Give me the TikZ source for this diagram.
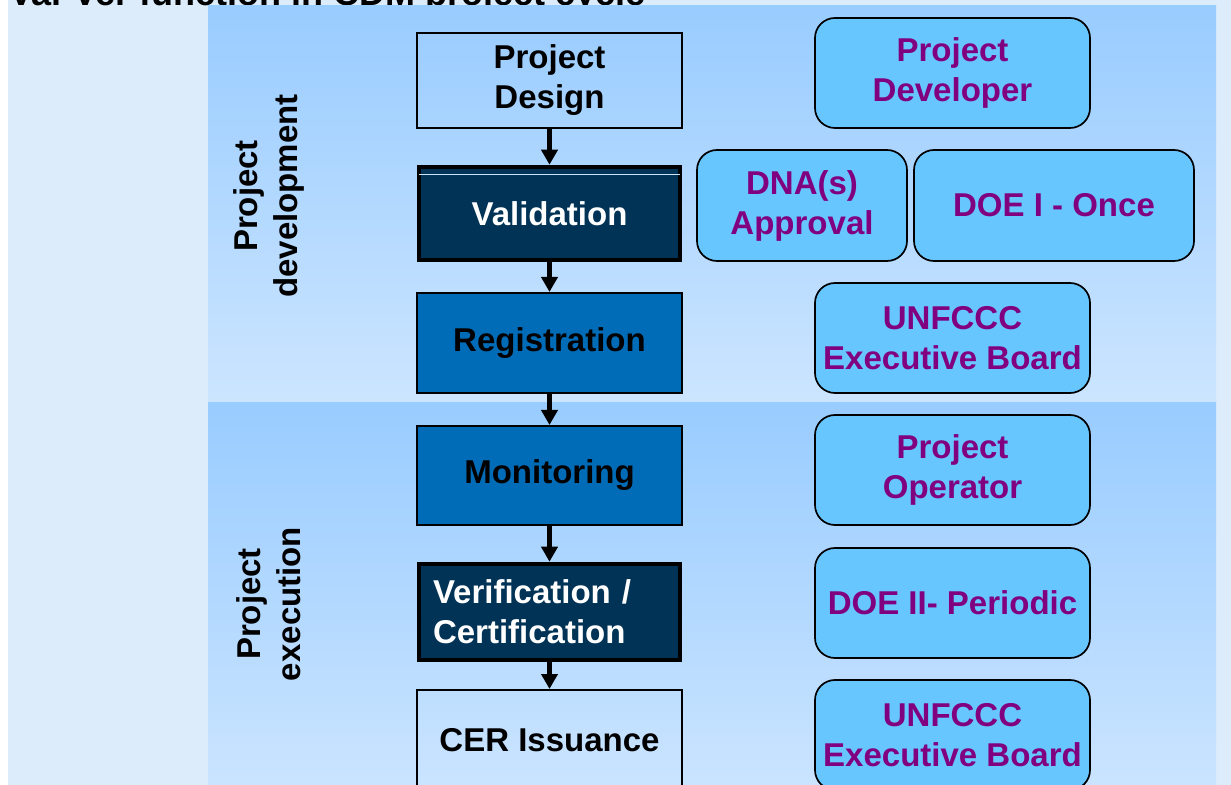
\documentclass[tikz,border=0pt]{standalone}
\usepackage{fontspec}
\setmainfont{Liberation Sans}
\usetikzlibrary{arrows.meta}
\definecolor{pagebg}{RGB}{220,236,250}
\definecolor{paneltop}{RGB}{153,204,255}
\definecolor{panelbot}{RGB}{204,229,255}
\definecolor{navy}{RGB}{0,51,85}
\definecolor{midblue}{RGB}{0,108,183}
\definecolor{skyblue}{RGB}{104,198,255}
\definecolor{rolepurple}{RGB}{128,0,128}
\begin{document}
\begin{tikzpicture}[x=0.5pt, y=-0.5pt,
	txt/.style={font=\fontsize{16.5}{20}\selectfont\bfseries, align=center},
	stage/.style={txt, draw=black, line width=1pt, minimum width=132.5pt},
	keystage/.style={txt, draw=black, line width=2.25pt, fill=navy, text=white,
		minimum width=130.5pt, minimum height=46.5pt},
	role/.style={txt, draw=black, line width=0.85pt, fill=skyblue,
		text=rolepurple, rounded corners=10pt, minimum width=137.5pt,
		minimum height=55pt},
	flow/.style={line width=2.5pt, -{Triangle[width=8pt, length=7.5pt]}}]
	\useasboundingbox (0, 0) rectangle (1231, 785);
	% Hintergrund
	\fill[pagebg] (8, 0) rectangle (1231, 785);
	\node[anchor=base west, inner sep=0pt,
		font=\fontsize{18}{20}\selectfont\bfseries] (title) at (9, 6)
		{Val-Ver function in CDM project cycle};
	\shade[top color=paneltop, bottom color=panelbot] (208, 6) rectangle
	(1216, 403);
	\shade[top color=paneltop, bottom color=panelbot] (208, 403) rectangle
	(1216, 800);
	% Phasen
	\node[txt, rotate=90] (devphase) at (269, 196) {Project\\development};
	\node[txt, rotate=90] (exephase) at (269, 604) {Project\\execution};
	% Projektzyklus
	\node[stage, minimum height=47.5pt] (design) at (549.5, 80.5)
	{Project\\Design};
	\node[keystage] (valid) at (549.5, 213.5) {Validation};
	\draw[panelbot, line width=0.5pt] ([xshift=1.2pt, yshift=-5pt]valid.north
	west) -- ([xshift=-1.2pt, yshift=-5pt]valid.north east);
	\node[stage, fill=midblue, minimum height=50pt] (reg) at (549.5, 343)
	{Registration};
	\node[stage, fill=midblue, minimum height=49.5pt] (mon) at (549.5, 475.5)
	{Monitoring};
	\node[keystage, minimum height=48pt, text width=116.5pt, align=left,
		inner xsep=7pt] (verif) at (549.5, 612) {Verification /\\Certification};
	\node[stage, minimum height=50pt] (cer) at (549.5, 740) {CER Issuance};
	% Pfeile
	\draw[flow] (design) -- (valid);
	\draw[flow] (valid) -- (reg);
	\draw[flow] (reg) -- (mon);
	\draw[flow] (mon) -- (verif);
	\draw[flow] (verif) -- (cer);
	% Beteiligte
	\node[role] (developer) at (952.5, 73) {Project\\Developer};
	\node[role, minimum width=105pt, minimum height=55.5pt] (dna) at (802,
	205.5) {DNA(s)\\Approval};
	\node[role, minimum width=140pt, minimum height=55.5pt] (doeone) at (1054,
	205.5) {DOE I - Once};
	\node[role] (boardone) at (952.5, 338) {UNFCCC\\Executive Board};
	\node[role] (operator) at (952.5, 470) {Project\\Operator};
	\node[role] (doetwo) at (952.5, 603) {DOE II- Periodic};
	\node[role] (boardtwo) at (952.5, 735) {UNFCCC\\Executive Board};
\end{tikzpicture}
\end{document}
